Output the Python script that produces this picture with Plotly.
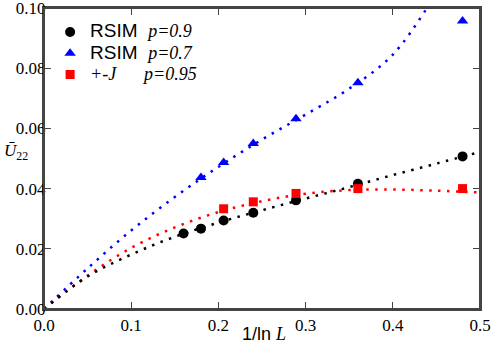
import plotly.graph_objects as go

# 1/ln L positions of the simulated sizes
x_rsim = [0.160, 0.180, 0.206, 0.240, 0.289, 0.360, 0.480]
u22_rsim_09 = [0.0251, 0.0267, 0.0294, 0.0320, 0.0361, 0.0416, 0.0507]

x_rsim_07 = [0.180, 0.206, 0.240, 0.289, 0.360, 0.480]
u22_rsim_07 = [0.0437, 0.0487, 0.0550, 0.0632, 0.0752, 0.0957]

x_pmj = [0.206, 0.240, 0.289, 0.360, 0.480]
u22_pmj_095 = [0.0333, 0.0356, 0.0384, 0.0400, 0.0400]

# dotted fit curves
x_fit = [0.0, 0.05, 0.10, 0.15, 0.20, 0.25, 0.30, 0.35, 0.40, 0.45, 0.50]
fit_rsim_09 = [0.0, 0.0108, 0.0181, 0.0240, 0.0287, 0.0328, 0.0367, 0.0405, 0.0445, 0.0483, 0.0522]
fit_pmj_095 = [0.0, 0.0111, 0.0203, 0.0271, 0.0322, 0.0358, 0.0383, 0.0395, 0.0397, 0.0393, 0.0387]
x_fit_07 = [0.0, 0.05, 0.10, 0.15, 0.20, 0.25, 0.30, 0.35, 0.40, 0.45]
fit_rsim_07 = [0.0, 0.0135, 0.0261, 0.0372, 0.0472, 0.0563, 0.0646, 0.0732, 0.0845, 0.1050]

x_ticks = [0.0, 0.1, 0.2, 0.3, 0.4, 0.5]
y_ticks = [0.00, 0.02, 0.04, 0.06, 0.08, 0.10]

SERIF = "Liberation Serif"
SANS = "Liberation Sans"
NB = "\u00a0"


def serif_it(s, size=18):
    return f'<span style="font-family:{SERIF};font-size:{size}px"><i>{s}</i></span>'


def sans(s, size=19):
    return f'<span style="font-family:{SANS};font-size:{size}px">{s}</span>'


fig = go.Figure()

dotted = dict(width=2.5, dash="2.5px,6.5px")
for xs, ys, col in [(x_fit_07, fit_rsim_07, "#0000ff"),
                    (x_fit, fit_pmj_095, "#ff0000"),
                    (x_fit, fit_rsim_09, "#000000")]:
    fig.add_trace(go.Scatter(x=xs, y=ys, mode="lines", line=dict(color=col, shape="spline", **dotted),
                             showlegend=False, hoverinfo="skip"))

fig.add_trace(go.Scatter(x=x_rsim, y=u22_rsim_09, mode="markers",
                         name=sans("RSIM" + NB * 2) + serif_it("p=0.9"),
                         marker=dict(symbol="circle", color="black", size=10)))
fig.add_trace(go.Scatter(x=x_rsim_07, y=u22_rsim_07, mode="markers",
                         name=sans("RSIM" + NB * 2) + serif_it("p=0.7"),
                         marker=dict(symbol="triangle-up", color="#0000ff", size=10)))
fig.add_trace(go.Scatter(x=x_pmj, y=u22_pmj_095, mode="markers",
                         name=serif_it("+-J") + sans(NB * 5, 20) + serif_it("p=0.95"),
                         marker=dict(symbol="square", color="#ff0000", size=9)))

axis_common = dict(
    showline=True, linecolor="#444444", linewidth=2, mirror="ticks",
    ticks="inside", ticklen=7, tickcolor="#444444", tickwidth=1.2,
    showgrid=False, zeroline=False, automargin=False, ticklabeloverflow="allow",
    tickfont=dict(family=SERIF, size=17, color="black"),
)

fig.update_layout(
    width=491, height=349,
    margin=dict(l=44, r=11, t=8, b=40),
    paper_bgcolor="white", plot_bgcolor="white",
    font=dict(family=SANS, size=18, color="black"),
    xaxis=dict(range=[0, 0.5], tickvals=x_ticks, ticktext=["0.0", "0.1", "0.2", "0.3", "0.4", "0.5"],
               **axis_common),
    yaxis=dict(range=[0, 0.10], tickvals=y_ticks, ticktext=["0.00", "0.02", "0.04", "0.06", "0.08", "0.10"],
               ticklabelstandoff=-7, **axis_common),
    legend=dict(x=0.014, y=0.972, xanchor="left", yanchor="top", bgcolor="rgba(0,0,0,0)",
                font=dict(family=SANS, size=14), tracegroupgap=0, itemwidth=30),
    # plot frame
    shapes=[dict(type="rect", xref="paper", yref="paper", x0=0, x1=1, y0=0, y1=1,
                 line=dict(color="#444444", width=2), layer="above")],
    annotations=[
        dict(text="<i>Ū</i><sub>22</sub>", x=-0.096, y=0.52, xref="paper", yref="paper",
             xanchor="left", yanchor="middle", showarrow=False, font=dict(family=SERIF, size=17)),
        dict(text="1/ln " + serif_it("L"), x=0.505, y=-0.083, xref="paper", yref="paper",
             xanchor="center", yanchor="middle", showarrow=False, font=dict(family=SANS, size=18)),
    ],
)

# the page body has a default 8px margin, drop it so the figure fills the window
fig.write_html("out.html", config={"displayModeBar": False},
               post_script="document.body.style.margin='0';document.body.style.overflow='hidden';")
